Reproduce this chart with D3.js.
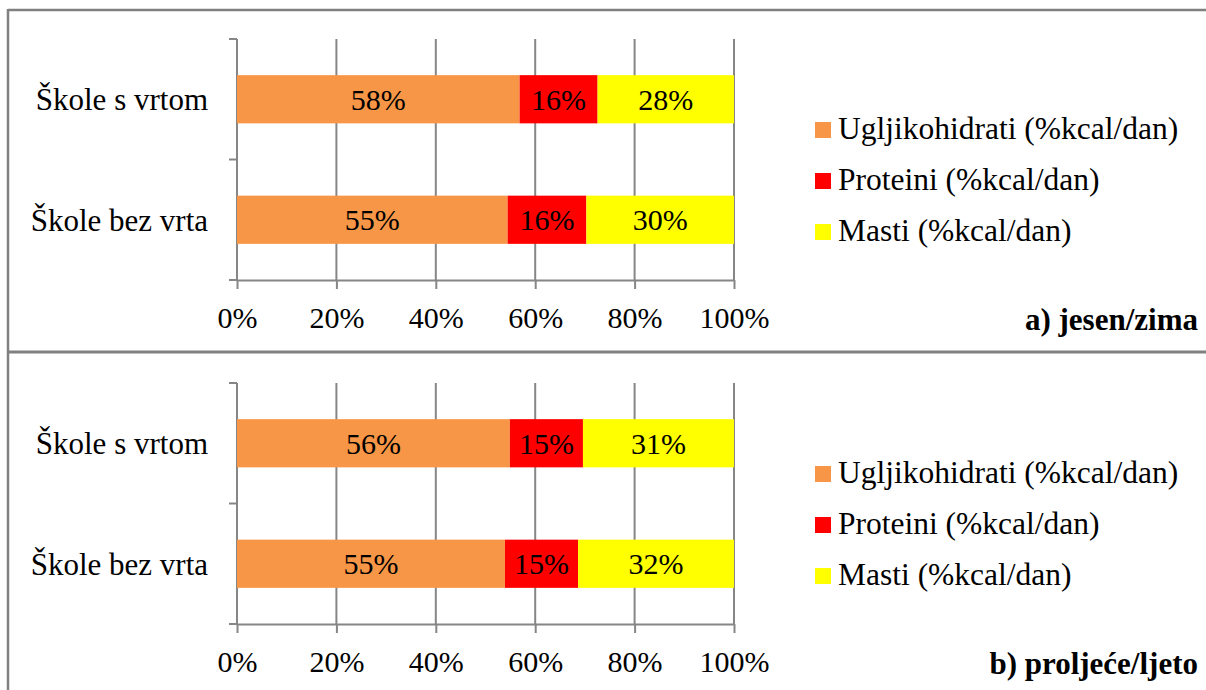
<!DOCTYPE html>
<html>
<head>
<meta charset="utf-8">
<script src="https://cdn.jsdelivr.net/npm/d3@7"></script>
<style>
  body { margin: 0; background: #fff; }
  svg text { font-family: "Liberation Serif", "Times New Roman", Tinos, "DejaVu Serif", serif; }
</style>
</head>
<body>
<svg width="1206" height="690"></svg>
<script>
'use strict'

const categories = ['Škole s vrtom', 'Škole bez vrta']
const seriesNames = ['Ugljikohidrati (%kcal/dan)', 'Proteini (%kcal/dan)', 'Masti (%kcal/dan)']
const seriesColors = ['#F79646', '#FF0000', '#FFFF00']
const autumnValues = [[58, 16, 28], [55, 16, 30]]
const springValues = [[56, 15, 31], [55, 15, 32]]
const panelTitles = ['a) jesen/zima', 'b) proljeće/ljeto']
const xTicks = [0, 0.2, 0.4, 0.6, 0.8, 1]

const svg = d3.select('svg')
const gridColor = '#868686'

// panel frame
svg.append('line').attr('x1', 8).attr('x2', 1206).attr('y1', 10).attr('y2', 10)
  .attr('stroke', '#808080').attr('stroke-width', 2.5)
svg.append('line').attr('x1', 8).attr('x2', 8).attr('y1', 9).attr('y2', 690)
  .attr('stroke', '#808080').attr('stroke-width', 2.5)
svg.append('line').attr('x1', 8).attr('x2', 1206).attr('y1', 352).attr('y2', 352)
  .attr('stroke', '#808080').attr('stroke-width', 3)

const x = d3.scaleLinear().domain([0, 1]).range([237, 734])
const y = d3.scaleBand().domain(categories).range([39, 280])
  .paddingInner(0.6).paddingOuter(0.3)

const stack = d3.stack().keys([0, 1, 2]).offset(d3.stackOffsetExpand)

const renderPanel = (values, title, offsetY) => {
  const g = svg.append('g').attr('transform', `translate(0, ${offsetY})`)
  const rows = values.map((v, i) => ({ cat: categories[i], 0: v[0], 1: v[1], 2: v[2] }))
  const layers = stack(rows)

  // vertical gridlines
  g.selectAll('.grid').data(xTicks).enter().append('line')
    .attr('x1', (d) => x(d)).attr('x2', (d) => x(d))
    .attr('y1', y.range()[0]).attr('y2', y.range()[1])
    .attr('stroke', gridColor).attr('stroke-width', 2)

  // y axis ticks on band boundaries
  const bounds = d3.range(categories.length + 1).map((i) => y.range()[0] + i * y.step())
  g.selectAll('.ytick').data(bounds).enter().append('line')
    .attr('x1', x(0) - 8).attr('x2', x(0))
    .attr('y1', (d) => d).attr('y2', (d) => d)
    .attr('stroke', gridColor).attr('stroke-width', 2)

  // x axis
  const xAxis = g.append('g').attr('transform', `translate(0, ${y.range()[1]})`)
    .call(d3.axisBottom(x).tickValues(xTicks).tickFormat(d3.format('.0%')).tickSize(9).tickSizeOuter(0))
  xAxis.attr('font-family', null)
  xAxis.select('.domain').attr('stroke', gridColor).attr('stroke-width', 2)
  xAxis.selectAll('.tick line').attr('stroke', gridColor).attr('stroke-width', 2)
  xAxis.selectAll('.tick text').attr('y', 48).attr('dy', 0)
    .attr('font-size', 30).attr('fill', '#000')

  // bars
  layers.forEach((layer, si) => {
    const lg = g.append('g')
    lg.selectAll('rect').data(layer).enter().append('rect')
      .attr('x', (d) => x(d[0]))
      .attr('width', (d) => x(d[1]) - x(d[0]))
      .attr('y', (d) => y(d.data.cat))
      .attr('height', y.bandwidth())
      .attr('fill', seriesColors[si])
    lg.selectAll('text').data(layer).enter().append('text')
      .attr('x', (d) => (x(d[0]) + x(d[1])) / 2)
      .attr('y', (d) => y(d.data.cat) + y.bandwidth() / 2)
      .attr('dy', '0.35em')
      .attr('text-anchor', 'middle')
      .attr('font-size', 30)
      .text((d) => d.data[si] + '%')
  })

  // category labels
  g.selectAll('.cat').data(categories).enter().append('text')
    .attr('x', 208)
    .attr('y', (d) => y(d) + y.bandwidth() / 2)
    .attr('dy', '0.35em')
    .attr('text-anchor', 'end')
    .attr('font-size', 31)
    .text((d) => d)

  // legend
  const leg = g.selectAll('.leg').data(seriesNames).enter().append('g')
    .attr('transform', (d, i) => `translate(815, ${122 + i * 51})`)
  leg.append('rect').attr('width', 16).attr('height', 16)
    .attr('fill', (d, i) => seriesColors[i])
  leg.append('text').attr('x', 23).attr('y', 17)
    .attr('font-size', 31.5)
    .text((d) => d)

  g.append('text')
    .attr('x', 1198).attr('y', 330)
    .attr('text-anchor', 'end')
    .attr('font-size', 31)
    .attr('font-weight', 'bold')
    .text(title)
}

renderPanel(autumnValues, panelTitles[0], 0)
renderPanel(springValues, panelTitles[1], 344)
</script>
</body>
</html>
